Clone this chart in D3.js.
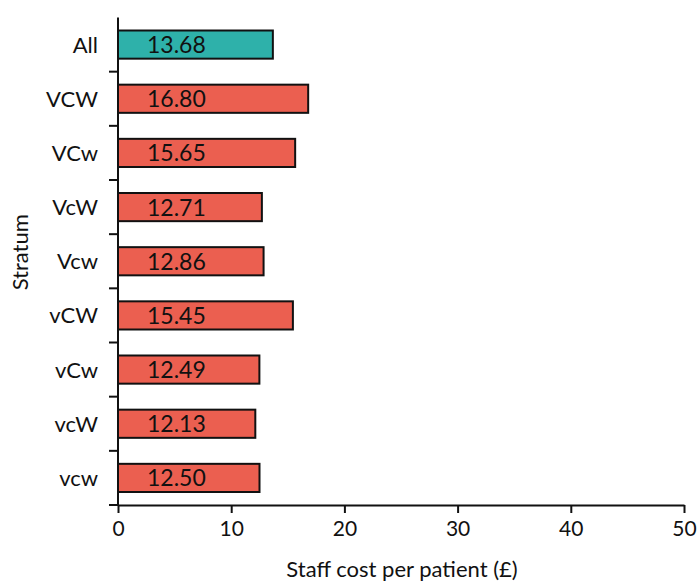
<!DOCTYPE html>
<html>
<head>
<meta charset="utf-8">
<script src="https://cdn.jsdelivr.net/npm/d3@7"></script>
<style>
  body { margin: 0; background: #fff; }
  text { font-family: Lato, "Open Sans", sans-serif; fill: #111; }
</style>
</head>
<body>
<div id="chart"></div>
<script>
// data
const strata = ["All", "VCW", "VCw", "VcW", "Vcw", "vCW", "vCw", "vcW", "vcw"]
const costs = [13.68, 16.80, 15.65, 12.71, 12.86, 15.45, 12.49, 12.13, 12.50]
const xTicks = [0, 10, 20, 30, 40, 50]

const totalW = 698
const totalH = 581
const margin = { top: 17.5, right: 14, bottom: 76, left: 118 }
const w = totalW - margin.left - margin.right
const h = totalH - margin.top - margin.bottom

const svg = d3.select("#chart")
  .append("svg")
    .attr("width", totalW)
    .attr("height", totalH)
  .append("g")
    .attr("transform", `translate(${margin.left},${margin.top})`)

const x = d3.scaleLinear().domain([0, 50]).range([0, w])
const y = d3.scaleBand().domain(strata).range([0, h]).paddingInner(0.48).paddingOuter(0.24)

const rows = strata.map((s, i) => ({ s: s, v: costs[i] }))

// bars
svg.selectAll("rect.bar")
  .data(rows)
  .enter()
  .append("rect")
    .attr("class", "bar")
    .attr("x", x(0))
    .attr("y", d => y(d.s))
    .attr("width", d => x(d.v) - x(0))
    .attr("height", y.bandwidth())
    .attr("fill", d => d.s === "All" ? "#2eb1aa" : "#eb5f50")
    .attr("stroke", "#111")
    .attr("stroke-width", 2)

svg.selectAll("text.val")
  .data(rows)
  .enter()
  .append("text")
    .attr("class", "val")
    .attr("x", x(0) + 29)
    .attr("y", d => y(d.s) + y.bandwidth() / 2 + 8.5)
    .attr("font-size", "23px")
    .text(d => d.v.toFixed(2))

// y axis: ticks sit between the bands
const bandEdges = strata.map(s => y(s) - y.step() * y.paddingInner() / 2).slice(1)
bandEdges.push(h)
const yAxis = svg.append("g")
yAxis.append("line")
  .attr("x1", 0).attr("x2", 0).attr("y1", 0).attr("y2", h)
  .attr("stroke", "#111").attr("stroke-width", 2)
yAxis.selectAll("line.tk")
  .data(bandEdges)
  .enter()
  .append("line")
    .attr("class", "tk")
    .attr("x1", -9).attr("x2", 0)
    .attr("y1", d => d).attr("y2", d => d)
    .attr("stroke", "#111").attr("stroke-width", 2)
yAxis.selectAll("text.cat")
  .data(strata)
  .enter()
  .append("text")
    .attr("class", "cat")
    .attr("x", -20)
    .attr("y", d => y(d) + y.bandwidth() / 2 + 8)
    .attr("text-anchor", "end")
    .attr("font-size", "22px")
    .text(d => d)

// x axis
const xAxis = svg.append("g")
  .attr("transform", `translate(0,${h})`)
  .call(d3.axisBottom(x).tickValues(xTicks).tickSize(8).tickSizeOuter(0).tickPadding(8))
xAxis.select(".domain").attr("stroke", "#111").attr("stroke-width", 2)
xAxis.selectAll(".tick line").attr("stroke", "#111").attr("stroke-width", 2)
xAxis.selectAll(".tick text").attr("font-size", "21px").attr("font-family", "Lato, sans-serif").attr("fill", "#111")

svg.append("text")
  .attr("x", w / 2 + 1)
  .attr("y", h + 72)
  .attr("text-anchor", "middle")
  .attr("font-size", "22px")
  .text("Staff cost per patient (£)")

svg.append("text")
  .attr("transform", "rotate(-90)")
  .attr("x", -h / 2 + 9)
  .attr("y", -90)
  .attr("text-anchor", "middle")
  .attr("font-size", "22px")
  .text("Stratum")
</script>
</body>
</html>
